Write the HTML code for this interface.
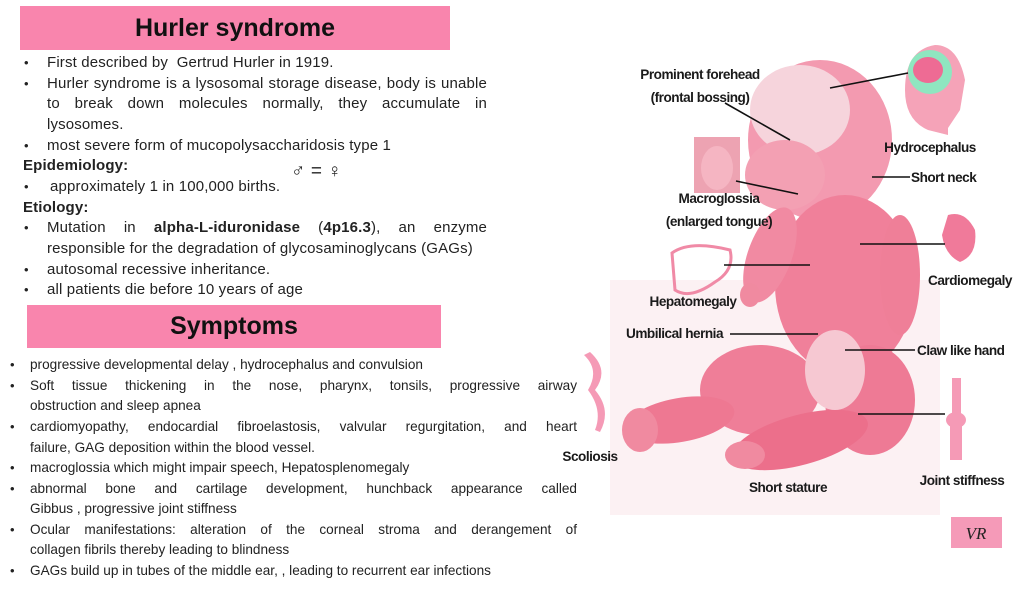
<!DOCTYPE html>
<html><head><meta charset="utf-8"><style>
body{margin:0;width:1024px;height:590px;background:#fff;position:relative;overflow:hidden;font-family:"Liberation Sans",sans-serif;color:#222}
.box{position:absolute;background:#f985ad;text-align:center;font-weight:bold;color:#111}
.l{position:absolute;font-size:15px;letter-spacing:0.15px;white-space:nowrap;line-height:17px}
.s{font-size:13.6px;letter-spacing:0px}
.j{text-align:justify;text-align-last:justify;white-space:normal}
.b{position:absolute;font-size:13px}
.lab{font-family:"Liberation Sans",sans-serif;font-weight:bold;font-size:13.6px;letter-spacing:-0.5px;fill:#1a1a1a}
</style></head><body>
<div class="box" style="left:20px;top:6px;width:430px;height:44px;font-size:25px;line-height:44px">Hurler syndrome</div>
<div class="b" style="left:24px;top:55px">•</div><div class="l" style="left:47px;top:54px">First described by&nbsp; Gertrud Hurler in 1919.</div>
<div class="b" style="left:24px;top:76px">•</div><div class="l j" style="left:47px;top:75px;width:440px">Hurler syndrome is a lysosomal storage disease, body is unable</div>
<div class="l j" style="left:47px;top:95px;width:440px">to break down molecules normally, they accumulate in</div>
<div class="l" style="left:47px;top:116px">lysosomes.</div>
<div class="b" style="left:24px;top:138px">•</div><div class="l" style="left:47px;top:137px">most severe form of mucopolysaccharidosis type 1</div>
<div class="l" style="left:23px;top:157px;font-weight:bold">Epidemiology:</div>
<div class="b" style="left:24px;top:179px">•</div><div class="l" style="left:50px;top:178px">approximately 1 in 100,000 births.</div>
<div class="l" style="left:291px;top:163px;font-size:19px">♂ = ♀</div>
<div class="l" style="left:23px;top:199px;font-weight:bold">Etiology:</div>
<div class="b" style="left:24px;top:220px">•</div><div class="l j" style="left:47px;top:219px;width:440px">Mutation in <b>alpha-L-iduronidase</b> (<b>4p16.3</b>), an enzyme</div>
<div class="l" style="left:47px;top:240px">responsible for the degradation of glycosaminoglycans (GAGs)</div>
<div class="b" style="left:24px;top:262px">•</div><div class="l" style="left:47px;top:261px">autosomal recessive inheritance.</div>
<div class="b" style="left:24px;top:282px">•</div><div class="l" style="left:47px;top:281px">all patients die before 10 years of age</div>

<div class="box" style="left:27px;top:305px;width:414px;height:43px;font-size:25px;line-height:43px">Symptoms</div>
<div class="b" style="left:10px;top:357px">•</div><div class="l s" style="left:30px;top:356px">progressive developmental delay , hydrocephalus and convulsion</div>
<div class="b" style="left:10px;top:378px">•</div><div class="l s j" style="left:30px;top:377px;width:547px">Soft tissue thickening in the nose, pharynx, tonsils, progressive airway</div>
<div class="l s" style="left:30px;top:397px">obstruction and sleep apnea</div>
<div class="b" style="left:10px;top:419px">•</div><div class="l s j" style="left:30px;top:418px;width:547px">cardiomyopathy, endocardial fibroelastosis, valvular regurgitation, and heart</div>
<div class="l s" style="left:30px;top:439px">failure, GAG deposition within the blood vessel.</div>
<div class="b" style="left:10px;top:460px">•</div><div class="l s" style="left:30px;top:459px">macroglossia which might impair speech, Hepatosplenomegaly</div>
<div class="b" style="left:10px;top:481px">•</div><div class="l s j" style="left:30px;top:480px;width:547px">abnormal bone and cartilage development, hunchback appearance called</div>
<div class="l s" style="left:30px;top:500px">Gibbus , progressive joint stiffness</div>
<div class="b" style="left:10px;top:522px">•</div><div class="l s j" style="left:30px;top:521px;width:547px">Ocular manifestations: alteration of the corneal stroma and derangement of</div>
<div class="l s" style="left:30px;top:541px">collagen fibrils thereby leading to blindness</div>
<div class="b" style="left:10px;top:563px">•</div><div class="l s" style="left:30px;top:562px">GAGs build up in tubes of the middle ear, , leading to recurrent ear infections</div>

<svg style="position:absolute;left:0;top:0" width="1024" height="590">
<rect x="610" y="280" width="330" height="235" fill="#fcf1f3"/>
<g fill="#f0809a">
<ellipse cx="820" cy="140" rx="72" ry="80" fill="#f39ab0"/>
<ellipse cx="800" cy="110" rx="50" ry="45" fill="#f6d4dc"/>
<ellipse cx="785" cy="175" rx="40" ry="35" fill="#f3a0b3"/>
<ellipse cx="845" cy="285" rx="70" ry="90"/>
<ellipse cx="770" cy="255" rx="22" ry="50" fill="#f18aa2" transform="rotate(20 770 255)"/>
<ellipse cx="900" cy="275" rx="20" ry="60" fill="#ef7f98"/>
<ellipse cx="870" cy="400" rx="45" ry="55" fill="#ee7a95"/>
<ellipse cx="760" cy="390" rx="60" ry="45" fill="#ef7e98"/>
<ellipse cx="680" cy="420" rx="55" ry="22" fill="#ee7892" transform="rotate(-10 680 420)"/>
<ellipse cx="800" cy="440" rx="70" ry="25" fill="#ec6f8b" transform="rotate(-15 800 440)"/>
<ellipse cx="640" cy="430" rx="18" ry="22" fill="#f08aa0"/>
<ellipse cx="745" cy="455" rx="20" ry="14" fill="#f08aa0"/>
<ellipse cx="835" cy="370" rx="30" ry="40" fill="#f6c8d2"/>
<ellipse cx="750" cy="295" rx="10" ry="12" fill="#f08aa0"/>
</g>
<path d="M928 130 Q905 120 905 90 Q905 50 935 45 Q958 45 965 80 L960 110 L948 128 L948 135Z" fill="#f5a3b8"/>
<ellipse cx="930" cy="72" rx="22" ry="22" fill="#8fe6c0"/>
<ellipse cx="928" cy="70" rx="15" ry="13" fill="#ee6b94"/>
<rect x="694" y="137" width="46" height="56" fill="#eda3b2"/>
<ellipse cx="717" cy="168" rx="16" ry="22" fill="#f5b5c2"/>
<path d="M672 253 Q690 240 730 250 Q735 270 715 282 Q690 300 675 290Z" fill="none" stroke="#f08aa6" stroke-width="3"/>
<path d="M948 215 Q965 210 975 230 Q978 255 960 262 Q945 255 942 235Z" fill="#f07a9a"/>
<g fill="#f59ab6">
<rect x="952" y="378" width="9" height="40"/><ellipse cx="956" cy="420" rx="10" ry="8"/><rect x="950" y="424" width="12" height="36"/>
<path d="M590 352 Q610 370 595 390 Q612 410 600 432 L595 430 Q603 410 588 390 Q600 370 584 355Z"/>
</g>
<g stroke="#111" stroke-width="1.6">
<line x1="725" y1="103" x2="790" y2="140"/><line x1="830" y1="88" x2="908" y2="73"/>
<line x1="872" y1="177" x2="910" y2="177"/><line x1="736" y1="181" x2="798" y2="194"/>
<line x1="860" y1="244" x2="945" y2="244"/><line x1="724" y1="265" x2="810" y2="265"/>
<line x1="730" y1="334" x2="818" y2="334"/><line x1="845" y1="350" x2="915" y2="350"/>
<line x1="858" y1="414" x2="945" y2="414"/>
</g>
<g class="lab" text-anchor="middle">
<text x="700" y="79">Prominent forehead</text><text x="700" y="102">(frontal bossing)</text>
<text x="930" y="152">Hydrocephalus</text>
<text x="719" y="203">Macroglossia</text><text x="719" y="226">(enlarged tongue)</text>
<text x="970" y="285">Cardiomegaly</text><text x="693" y="306">Hepatomegaly</text>
<text x="590" y="461">Scoliosis</text><text x="962" y="485">Joint stiffness</text>
<text x="788" y="492">Short stature</text>
</g>
<g class="lab"><text x="911" y="182">Short neck</text><text x="626" y="338">Umbilical hernia</text><text x="917" y="355">Claw like hand</text></g>
<rect x="951" y="517" width="51" height="31" fill="#f59ab8"/>
<text x="976" y="539" text-anchor="middle" font-family="Liberation Serif,serif" font-style="italic" font-size="17" fill="#222">VR</text>
</svg>
</body></html>
